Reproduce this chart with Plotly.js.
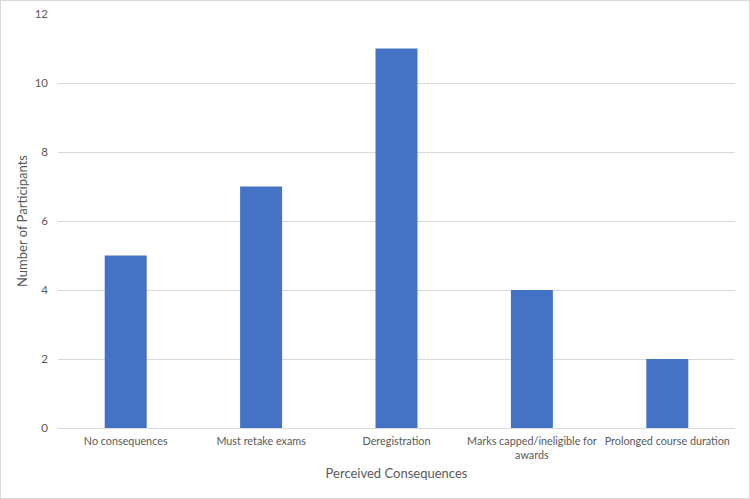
<!DOCTYPE html>
<html>
<head>
<meta charset="utf-8">
<script src="https://cdn.plot.ly/plotly-3.0.1.min.js"></script>
<style>
  html, body { margin: 0; padding: 0; background: #fff; }
  #chart { width: 748px; height: 497px; border: 1px solid #d9d9d9; }
</style>
</head>
<body>
<div id="chart"></div>
<script>
// Perceived consequences reported by participants
const categories = [
  "No consequences",
  "Must retake exams",
  "Deregistration",
  "Marks capped/ineligible for<br>awards",
  "Prolonged course duration"
];
const participants = [5, 7, 11, 4, 2];
const yTicks = [0, 2, 4, 6, 8, 10, 12];

const fontFamily = "Lato, 'Open Sans', sans-serif";

const trace = {
  type: "bar",
  x: categories,
  y: participants,
  marker: { color: "#4472C4" },
  hoverinfo: "x+y"
};

const layout = {
  width: 748,
  height: 497,
  margin: { l: 57, r: 14, t: 13, b: 70 },
  paper_bgcolor: "#ffffff",
  plot_bgcolor: "#ffffff",
  bargap: 0.69,
  showlegend: false,
  font: { family: fontFamily, size: 11, color: "#595959" },
  xaxis: {
    type: "category",
    showgrid: false,
    showline: true,
    linecolor: "#d9d9d9",
    linewidth: 1,
    ticks: "",
    tickangle: 0,
    automargin: false,
    ticklabelstandoff: 3,
    tickfont: { family: fontFamily, size: 10.8, color: "#595959" },
    title: {
      text: "Perceived Consequences",
      font: { family: fontFamily, size: 13, color: "#595959" },
      standoff: 8
    }
  },
  yaxis: {
    range: [0, 12],
    tickvals: yTicks,
    ticktext: yTicks.map(String),
    showgrid: true,
    gridcolor: "#d9d9d9",
    gridwidth: 1,
    zeroline: false,
    showline: false,
    ticks: "",
    automargin: false,
    ticklabelstandoff: 9,
    tickfont: { family: fontFamily, size: 11.5, color: "#595959" },
    title: {
      text: "Number of Participants",
      font: { family: fontFamily, size: 13, color: "#595959" },
      standoff: 4
    }
  }
};

Plotly.newPlot("chart", [trace], layout, { displayModeBar: false, staticPlot: true });
</script>
</body>
</html>
